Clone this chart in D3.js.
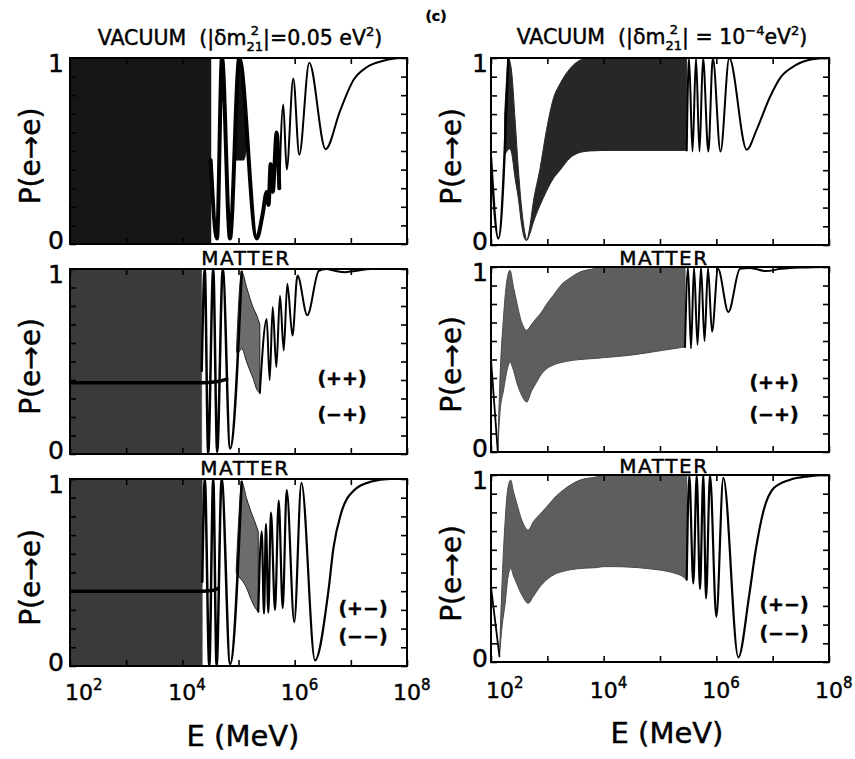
<!DOCTYPE html>
<html><head><meta charset="utf-8">
<script src="https://cdn.jsdelivr.net/npm/d3@7"></script>
<style>
body{margin:0;background:#fff}
svg{display:block}
text{font-family:"DejaVu Sans",sans-serif;fill:#000;stroke:#000;stroke-width:0.45px}
</style>
</head><body>
<svg id="c" width="855" height="759"></svg>
<script>
// ---------------- DATA (x = log10(E/MeV), y = P(e->e)) ----------------
const xTickValues = [1e2, 1e3, 1e4, 1e5, 1e6, 1e7, 1e8];
const yTickValues = [0, 0.1, 0.2, 0.3, 0.4, 0.5, 0.6, 0.7, 0.8, 0.9, 1];
const xLabelExps = [2, 4, 6, 8];
const yLabelValues = [0, 1];

// Vacuum, |dm21^2| = 0.05 eV^2
const vac1Full  = [[2, 0, 1], [4.51, 0, 1]];
const vac1Blob  = [[4.93,0.47,0.55],[4.96,0.45,0.72],[4.99,0.45,0.93],[5.014,0.45,1.0],[5.05,0.45,0.96],[5.09,0.45,0.84],[5.12,0.47,0.72],[5.14,0.5,0.62]];
const vac1Fast  = [[4.505,0.45],[4.617,0.03],[4.706,1.0],[4.848,0.03],[5.014,1.0],[5.324,0.03],[5.43,0.16],[5.502,0.28],[5.535,0.21],[5.573,0.43],[5.609,0.28],[5.68,0.60],[5.726,0.30]];
const vac1Curve = [[5.726,0.30],[5.797,0.75],[5.858,0.40],[5.975,0.89],[6.082,0.48],[6.26,0.975],[6.55,0.51],[6.807,0.715],[7.044,0.88],[7.282,0.95],[7.58,0.985],[7.9,1.0],[8.0,1.0]];

// Matter (++),(-+), 0.05 eV^2
const mat1Full   = [[2, 0, 1], [4.345, 0, 1]];
const mat1Flat   = [[2,0.385],[4.345,0.385],[4.6,0.39],[4.79,0.405]];
const mat1Spikes = [[4.345,0.45],[4.40,1.0],[4.46,0.0],[4.55,1.0],[4.62,0.01],[4.72,1.0],[4.85,0.03],[5.057,0.985]];
const mat1Band   = [[4.965,0.55,0.56],[5.0,0.55,0.80],[5.057,0.57,0.985],[5.146,0.497,0.90],[5.205,0.45,0.84],[5.263,0.407,0.79],[5.324,0.35,0.75],[5.38,0.33,0.70]];
const mat1Curve  = [[5.38,0.33],[5.502,0.73],[5.555,0.40],[5.609,0.795],[5.673,0.47],[5.739,0.855],[5.805,0.56],[5.869,0.92],[5.961,0.64],[6.05,0.965],[6.225,0.75],[6.43,0.99],[6.56,1.0],[6.72,0.99],[6.90,0.983],[7.10,0.99],[7.35,1.0],[8.0,1.0]];

// Matter (+-),(--), 0.05 eV^2
const mat2Full   = [[2, 0, 1], [4.355, 0, 1]];
const mat2Flat   = [[2,0.40],[4.355,0.40],[4.55,0.405],[4.64,0.415]];
const mat2Spikes = [[4.355,0.45],[4.40,1.0],[4.48,0.0],[4.55,1.0],[4.61,0.0],[4.70,1.0],[4.85,0.01],[5.057,0.985]];
const mat2Band   = [[4.96,0.50,0.52],[5.0,0.48,0.76],[5.057,0.46,0.985],[5.14,0.42,0.90],[5.205,0.37,0.84],[5.28,0.32,0.78],[5.352,0.29,0.72]];
const mat2Curve  = [[5.352,0.29],[5.413,0.72],[5.454,0.28],[5.489,0.76],[5.53,0.285],[5.578,0.82],[5.65,0.30],[5.716,0.885],[5.787,0.31],[5.858,0.94],[5.993,0.235],[6.12,0.98],[6.362,0.03],[6.60,0.40],[6.69,0.63],[6.83,0.82],[7.06,0.94],[7.35,0.985],[7.7,1.0],[8.0,1.0]];

// Vacuum, |dm21^2| = 1e-4 eV^2
const vac2Start = [[2.0,0.47],[2.13,0.035],[2.307,1.0]];
const vac2Band  = [[2.24,0.48,0.69],[2.28,0.50,0.90],[2.307,0.51,1.0],[2.337,0.515,0.98],[2.367,0.49,0.925],[2.426,0.36,0.675],[2.485,0.25,0.408],[2.545,0.105,0.194],[2.604,0.03,0.06],[2.634,0.025,0.025],[2.69,0.06,0.10],[2.751,0.12,0.23],[2.87,0.212,0.408],[2.989,0.29,0.622],[3.106,0.355,0.782],[3.225,0.40,0.862],[3.402,0.465,0.943],[3.58,0.495,0.988],[3.757,0.503,1.0],[4.171,0.506,1.0],[5.474,0.506,1.0]];
const vac2Curve = [[5.474,0.506],[5.515,1.0],[5.577,0.50],[5.639,1.0],[5.701,0.50],[5.764,1.0],[5.858,0.50],[5.938,1.0],[6.074,0.50],[6.229,1.0],[6.539,0.51],[6.72,0.62],[6.95,0.79],[7.15,0.90],[7.40,0.96],[7.70,0.993],[8.0,1.0]];

// Matter (++),(-+), 1e-4 eV^2
const mat3Start = [[2.0,0.50],[2.12,0.005]];
const mat3Band  = [[2.12,0.005,0.005],[2.16,0.216,0.40],[2.22,0.33,0.72],[2.279,0.432,0.92],[2.337,0.486,0.982],[2.40,0.44,0.89],[2.456,0.378,0.81],[2.545,0.306,0.70],[2.634,0.27,0.658],[2.72,0.33,0.69],[2.811,0.378,0.725],[2.87,0.41,0.745],[2.989,0.45,0.80],[3.106,0.47,0.847],[3.284,0.486,0.915],[3.344,0.49,0.928],[3.58,0.50,0.973],[3.817,0.505,0.99],[4.0,0.51,1.0],[4.467,0.523,1.0],[5.059,0.55,1.0],[5.444,0.568,1.0]];
const mat3Curve = [[5.444,0.568],[5.497,1.0],[5.55,0.56],[5.604,1.0],[5.666,0.58],[5.728,1.0],[5.79,0.60],[5.852,0.995],[5.923,0.65],[6.03,0.99],[6.213,0.757],[6.42,0.99],[6.60,0.995],[6.88,0.978],[7.15,0.99],[7.5,0.997],[8.0,1.0]];

// Matter (+-),(--), 1e-4 eV^2
const mat4Start = [[2.0,0.40],[2.15,0.03]];
const mat4Band  = [[2.15,0.03,0.03],[2.20,0.20,0.45],[2.25,0.31,0.75],[2.30,0.45,0.93],[2.35,0.50,0.973],[2.40,0.46,0.91],[2.456,0.42,0.85],[2.545,0.36,0.76],[2.663,0.314,0.706],[2.75,0.35,0.75],[2.87,0.403,0.79],[2.989,0.44,0.83],[3.166,0.474,0.89],[3.284,0.485,0.92],[3.58,0.50,0.973],[3.876,0.505,0.99],[4.0,0.51,1.0],[4.171,0.51,1.0],[4.764,0.50,1.0],[5.355,0.465,1.0],[5.474,0.44,1.0]];
const mat4Curve = [[5.474,0.44],[5.52,1.0],[5.591,0.42],[5.652,1.0],[5.71,0.39],[5.769,1.0],[5.817,0.34],[5.888,1.0],[6.0,0.242],[6.124,0.985],[6.39,0.025],[6.58,0.35],[6.70,0.60],[6.83,0.80],[7.02,0.93],[7.31,0.975],[7.63,0.993],[8.0,1.0]];

// ---------------- LAYOUT ----------------
const svg = d3.select("#c");
const panels = [
  {x0:70, x1:407, y0:58,  y1:244, col:0,
   areas:[{d:vac1Full, fill:"#161616"},{d:vac1Blob, fill:"#111"}],
   lines:[{d:vac1Fast,w:4},{d:vac1Curve,w:2}]},
  {x0:70, x1:407, y0:269, y1:454, col:0,
   areas:[{d:mat1Full, fill:"#3a3a3a"},{d:mat1Band, fill:"#6c6c6c", stroke:"#222"}],
   lines:[{d:mat1Flat,w:3.5},{d:mat1Spikes,w:2.5},{d:mat1Curve,w:2}],
   labels:["(++)","(\u2212+)"], lx:342, ly:[384.5,420.5]},
  {x0:70, x1:407, y0:479, y1:666, col:0, bottom:true,
   areas:[{d:mat2Full, fill:"#3a3a3a"},{d:mat2Band, fill:"#6c6c6c", stroke:"#222"}],
   lines:[{d:mat2Flat,w:3.5},{d:mat2Spikes,w:2.5},{d:mat2Curve,w:2.2}],
   labels:["(+\u2212)","(\u2212\u2212)"], lx:363, ly:[614.5,642.5]},
  {x0:491, x1:829, y0:58, y1:245, col:1,
   areas:[{d:vac2Band, fill:"#272727", stroke:"#272727"}],
   lines:[{d:vac2Start,w:2.4},{d:vac2Curve,w:2}]},
  {x0:491, x1:829, y0:267, y1:452, col:1,
   areas:[{d:mat3Band, fill:"#5e5e5e", stroke:"#4a4a4a"}],
   lines:[{d:mat3Start,w:1.8},{d:mat3Curve,w:2}],
   labels:["(++)","(\u2212+)"], lx:774, ly:[389,420.5]},
  {x0:491, x1:829, y0:475, y1:662, col:1, bottom:true,
   areas:[{d:mat4Band, fill:"#5e5e5e", stroke:"#4a4a4a"}],
   lines:[{d:mat4Start,w:1.8},{d:mat4Curve,w:2.2}],
   labels:["(+\u2212)","(\u2212\u2212)"], lx:784, ly:[610.5,639.5]}
];

// rich text helper: pieces {t, s, dy, stack, fw}
function rich(parent, pieces, x, y, anchor, ls) {
  const g = parent.append("g");
  let cx = 0, top = null, firstW = null;
  pieces.forEach(p => {
    const t = g.append("text").attr("y", y + (p.dy || 0)).attr("font-size", p.s).text(p.t);
    if (p.fw) t.attr("font-weight", p.fw);
    if (ls) t.attr("letter-spacing", ls);
    const w = t.node().getComputedTextLength();
    if (firstW === null) firstW = w;
    if (p.stack === "top") { top = {t, w}; }
    else if (p.stack === "bottom") {
      const W = Math.max(w, top.w);
      top.t.attr("x", cx + (W - top.w) / 2);
      t.attr("x", cx + (W - w) / 2);
      cx += W; top = null;
    } else { t.attr("x", cx); cx += w; }
  });
  let off = x;
  if (anchor === "middle") off = x - cx / 2;
  else if (anchor === "end") off = x - cx;
  else if (anchor === "first") off = x - firstW / 2;
  g.attr("transform", `translate(${off},0)`);
  return g;
}

panels.forEach((p, i) => {
  const x = d3.scaleLog().domain([1e2, 1e8]).range([p.x0, p.x1]);
  const y = d3.scaleLinear().domain([0, 1]).range([p.y1, p.y0]);
  const g = svg.append("g");
  const cid = "clip" + i;
  svg.append("clipPath").attr("id", cid).append("rect")
    .attr("x", p.x0).attr("y", p.y0).attr("width", p.x1 - p.x0).attr("height", p.y1 - p.y0);
  const dg = g.append("g").attr("clip-path", `url(#${cid})`);

  const area = d3.area().x(d => x(Math.pow(10, d[0]))).y0(d => y(d[1])).y1(d => y(d[2])).curve(d3.curveMonotoneX);
  const line = d3.line().x(d => x(Math.pow(10, d[0]))).y(d => y(d[1])).curve(d3.curveMonotoneX);

  p.areas.forEach(a => {
    dg.append("path").attr("d", area(a.d)).attr("fill", a.fill)
      .attr("stroke", a.stroke || a.fill).attr("stroke-width", a.stroke ? 1 : 0.5);
  });
  p.lines.forEach(l => {
    dg.append("path").attr("d", line(l.d)).attr("fill", "none").attr("stroke", "#000")
      .attr("stroke-width", l.w).attr("stroke-linejoin", "round").attr("stroke-linecap", "round");
  });

  // ticks (inward, all four sides)
  const tk = s => s.selectAll("line").attr("stroke", "#000").attr("stroke-width", 1.6);
  const ax = [
    g.append("g").attr("transform", `translate(0,${p.y1})`).call(d3.axisBottom(x).tickValues(xTickValues).tickSize(-6).tickFormat("")),
    g.append("g").attr("transform", `translate(0,${p.y0})`).call(d3.axisTop(x).tickValues(xTickValues).tickSize(-6).tickFormat("")),
    g.append("g").attr("transform", `translate(${p.x0},0)`).call(d3.axisLeft(y).tickValues(yTickValues).tickSize(-6).tickFormat("")),
    g.append("g").attr("transform", `translate(${p.x1},0)`).call(d3.axisRight(y).tickValues(yTickValues).tickSize(-6).tickFormat(""))
  ];
  ax.forEach(a => { a.select(".domain").remove(); tk(a); });

  g.append("rect").attr("x", p.x0).attr("y", p.y0).attr("width", p.x1 - p.x0).attr("height", p.y1 - p.y0)
    .attr("fill", "none").attr("stroke", "#000").attr("stroke-width", 2);

  // y labels 0 / 1
  const lxp = p.col === 0 ? p.x0 - 6 : p.x0 - 3;
  yLabelValues.forEach(v => {
    g.append("text").attr("x", lxp).attr("y", v === 1 ? y(1) + 14 : y(0) + 5)
      .attr("text-anchor", "end").attr("font-size", 25).text(String(v));
  });
  // y title
  const tx = p.col === 0 ? 40 : 461;
  g.append("text").attr("transform", `translate(${tx},${(p.y0 + p.y1) / 2 + 5}) rotate(-90)`)
    .attr("text-anchor", "middle").attr("font-size", 28).text("P(e\u2192e)");

  // +/- labels
  if (p.labels) {
    p.labels.forEach((t, k) => {
      g.append("text").attr("x", p.lx).attr("y", p.ly[k]).attr("text-anchor", "middle")
        .attr("font-size", 19).attr("font-weight", "bold").text(t);
    });
  }

  // bottom row: x tick labels + axis title
  if (p.bottom) {
    const by = p.col === 0 ? 700 : 698;
    xLabelExps.forEach(e => {
      rich(g, [{t:"10", s:22}, {t:String(e), s:15, dy:-10}], x(Math.pow(10, e)) + (e === 2 ? 9 : 0), by, "first");
    });
    g.append("text").attr("x", p.col === 0 ? 243 : 667).attr("y", p.col === 0 ? 746 : 743)
      .attr("text-anchor", "middle").attr("font-size", 29).text("E (MeV)");
  }
});

// titles
rich(svg, [{t:"VACUUM", s:20.5}, {t:"\u00a0\u00a0(|\u03b4m", s:20.5}, {t:"2", s:13, dy:-10, stack:"top"}, {t:"21", s:13, dy:6, stack:"bottom"},
           {t:"|=0.05 eV", s:20.5}, {t:"2", s:13, dy:-9}, {t:")", s:20.5}], 240, 45, "middle");
rich(svg, [{t:"VACUUM", s:20.5}, {t:"\u00a0\u00a0(|\u03b4m", s:20.5}, {t:"2", s:13, dy:-10, stack:"top"}, {t:"21", s:13, dy:6, stack:"bottom"},
           {t:"| = 10", s:20.5}, {t:"\u22124", s:13, dy:-9}, {t:"eV", s:20.5}, {t:"2", s:13, dy:-9}, {t:")", s:20.5}], 662, 44, "middle");
// MATTER headers
[[246,265],[664,265],[245,475],[664,473]].forEach(([mx, my]) => {
  svg.append("text").attr("x", mx).attr("y", my).attr("text-anchor", "middle")
    .attr("font-size", 20).attr("letter-spacing", 1.6).text("MATTER");
});
svg.append("text").attr("x", 436).attr("y", 21).attr("text-anchor", "middle")
  .attr("font-size", 14).attr("font-weight", "bold").text("(c)");
</script>
</body></html>
